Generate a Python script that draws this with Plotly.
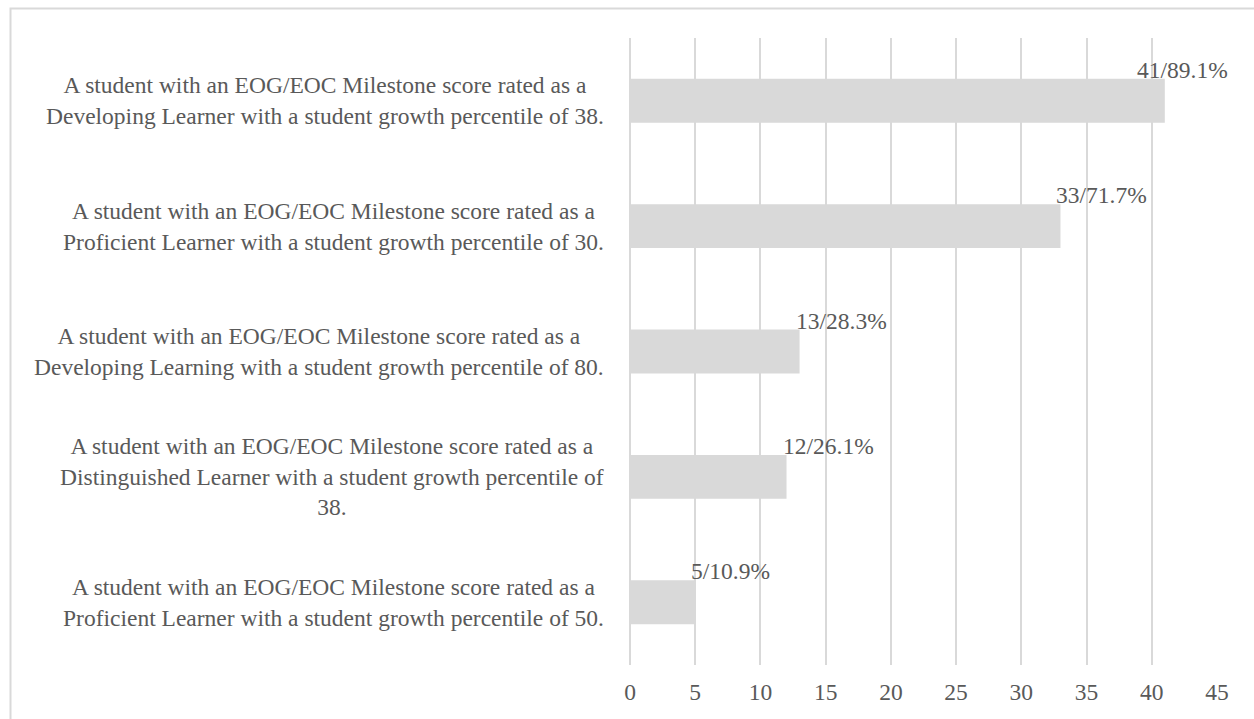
import plotly.graph_objects as go

categories = [
    "A student with an EOG/EOC Milestone score rated as a<br>Developing Learner with a student growth percentile of 38.",
    "A student with an EOG/EOC Milestone score rated as a<br>Proficient Learner with a student growth percentile of 30.",
    "A student with an EOG/EOC Milestone score rated as a<br>Developing Learning with a student growth percentile of 80.",
    "A student with an EOG/EOC Milestone score rated as a<br>Distinguished Learner with a student growth percentile of<br>38.",
    "A student with an EOG/EOC Milestone score rated as a<br>Proficient Learner with a student growth percentile of 50.",
]
counts = [41, 33, 13, 12, 5]
percents = [89.1, 71.7, 28.3, 26.1, 10.9]
tick_values = [0, 5, 10, 15, 20, 25, 30, 35, 40, 45]

W, H = 1254, 719
ML, MR, MT, MB = 630, 37, 38, 54
FONT = "Liberation Serif"
TXT = "#595959"
GREY = "#d9d9d9"
BARGAP = 0.65
FS = 23.5

keys = [f"c{i}" for i in range(len(categories))]

fig = go.Figure(go.Bar(
    x=counts, y=keys, orientation="h",
    marker=dict(color=GREY, line=dict(width=0)),
    hoverinfo="skip",
))

plot_h = H - MT - MB
plot_w = W - ML - MR
half_bar = plot_h / len(categories) * (1 - BARGAP) / 2

annotations = []
for k, lab in zip(keys, categories):
    annotations.append(dict(
        x=0, xref="paper", y=k, yref="y", text=lab, showarrow=False,
        xanchor="right", yanchor="middle", align="center", xshift=-24,
        font=dict(family=FONT, size=FS, color=TXT),
    ))
vmax = max(counts)
for k, c, p in zip(keys, counts, percents):
    is_max = c == vmax
    annotations.append(dict(
        x=c, xref="x", y=k, yref="y", text=f"{c}/{p}%", showarrow=False,
        xanchor="center" if is_max else "left", yanchor="middle",
        xshift=18 if is_max else -6, yshift=half_bar + 9,
        font=dict(family=FONT, size=FS, color=TXT),
    ))

# chart border (left/top visible)
bx0 = (10.5 - ML) / plot_w
by1 = (H - MB - 8.5) / plot_h
bx1 = (W + 10 - ML) / plot_w
by0 = (H - MB - (H + 10)) / plot_h

fig.update_layout(
    width=W, height=H,
    margin=dict(l=ML, r=MR, t=MT, b=MB, pad=0),
    paper_bgcolor="white", plot_bgcolor="white",
    bargap=BARGAP,
    showlegend=False,
    font=dict(family=FONT, size=FS, color=TXT),
    xaxis=dict(
        range=[0, 45], tickvals=tick_values, showgrid=True, gridcolor=GREY, gridwidth=2,
        zeroline=True, zerolinecolor=GREY, zerolinewidth=2, showline=False,
        ticks="outside", ticklen=6, tickcolor="rgba(0,0,0,0)",
        tickfont=dict(family=FONT, size=FS, color=TXT), fixedrange=True,
    ),
    yaxis=dict(
        categoryorder="array", categoryarray=keys, autorange="reversed",
        showticklabels=False, showgrid=False, zeroline=False, showline=False, fixedrange=True,
    ),
    annotations=annotations,
    shapes=[dict(type="rect", xref="paper", yref="paper", x0=bx0, x1=bx1, y0=by0, y1=by1,
                 line=dict(color=GREY, width=2), fillcolor="rgba(0,0,0,0)", layer="below")],
)

fig.write_html("out.html")
